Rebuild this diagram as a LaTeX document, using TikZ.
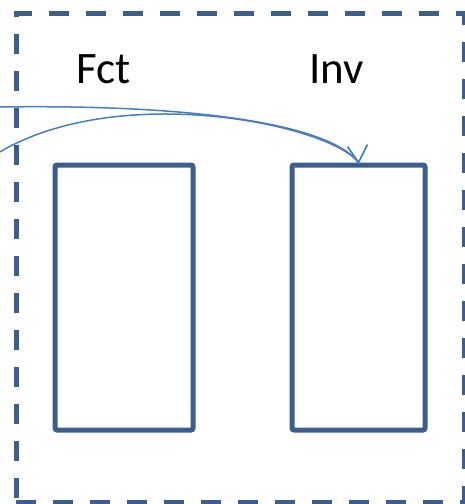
\documentclass[tikz,border=0pt]{standalone}
\usepackage{fontspec}
\setmainfont{Carlito}
\usetikzlibrary{arrows.meta}
\definecolor{frameblue}{HTML}{3A5F8F}
\definecolor{linkblue}{HTML}{4A7EBB}
\tikzset{
  boxframe/.style={draw=frameblue, line width=5pt, dash pattern=on 20pt off 17pt, inner sep=0pt},
  blockbox/.style={draw=frameblue, line width=5pt, rounded corners=2pt, inner sep=0pt, minimum height=265pt},
  title/.style={font=\fontsize{45}{54}\selectfont, anchor=base, inner sep=0pt},
  link/.style={draw=linkblue, line width=1.5pt},
  barb/.style={draw=linkblue, line width=1.7pt, line join=miter}
}
\begin{document}
\begin{tikzpicture}[x=1pt,y=-1pt]
\useasboundingbox (0,0) rectangle (465,504);
\node[boxframe, minimum width=448pt, minimum height=489pt] (frame) at (240,257.5) {};
\node[blockbox, minimum width=133pt] (inv) at (358.5,297.5) {};
\node[blockbox, minimum width=138pt] (fct) at (124,297.5) {};
\node[title] (fctlabel) at (103.5,83) {Fct};
\node[title] (invlabel) at (336.5,83) {Inv};
\coordinate (in1) at (-2,107);
\coordinate (in2) at (-2,153);
\draw[link] (in1) .. controls (200,104) and (330,125) .. (inv.north);
\draw[link] (in2) .. controls (120,80) and (330,125) .. (inv.north);
\draw[barb] ([shift={(-11,-16)}]inv.north) -- (inv.north) -- ([shift={(9,-18)}]inv.north);
\end{tikzpicture}
\end{document}
